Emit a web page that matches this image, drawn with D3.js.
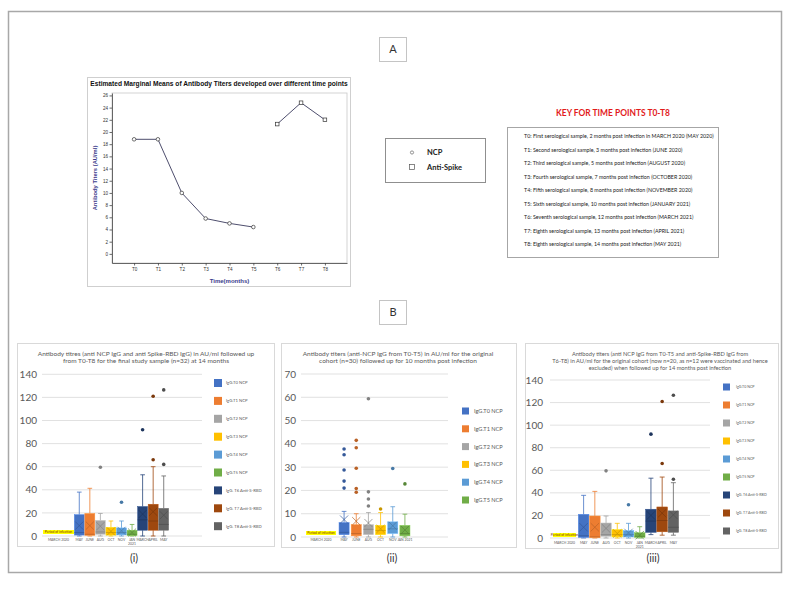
<!DOCTYPE html>
<html><head><meta charset="utf-8">
<script src="https://cdn.jsdelivr.net/npm/d3@7"></script>
<style>body{margin:0;background:#fff}svg{display:block}</style>
</head><body>
<svg id="c" width="788" height="609"></svg>
<script>
// ---------- Panel A data ----------
const timePoints = ["T0","T1","T2","T3","T4","T5","T6","T7","T8"];
const ncpPoints = ["T0","T1","T2","T3","T4","T5"];
const ncpMeans = [18.8,18.8,10.0,5.8,5.0,4.4];
const spikePoints = ["T6","T7","T8"];
const spikeMeans = [21.3,24.8,22.0];
const yTicksA = [0,2,4,6,8,10,12,14,16,18,20,22,24,26];
const keyLines = [
 "T0: First serological sample, 2 months post infection in MARCH 2020 (MAY 2020)",
 "T1: Second serological sample, 3 months post infection (JUNE 2020)",
 "T2: Third serological sample, 5 months post infection  (AUGUST 2020)",
 "T3: Fourth serological sample, 7 months post infection (OCTOBER 2020)",
 "T4: Fifth serological sample, 8 months post infection (NOVEMBER 2020)",
 "T5: Sixth serological sample, 10 months post infection (JANUARY 2021)",
 "T6: Seventh serological sample, 12 months post infection (MARCH 2021)",
 "T7: Eighth serological sample, 13 months post infection (APRIL 2021)",
 "T8: Eighth serological sample, 14 months post infection (MAY 2021)"
];
// ---------- Panel B data ----------
const seriesNames = ["IgG.T0 NCP","IgG.T1 NCP","IgG.T2 NCP","IgG.T3 NCP","IgG.T4 NCP","IgG.T5 NCP","IgG. T6 Anti-S-RBD","IgG. T7 Anti-S-RBD","IgG. T8 Anti-S-RBD"];
const seriesColors = ["#4472C4","#ED7D31","#A5A5A5","#FFC000","#5B9BD5","#70AD47","#264478","#9E480E","#636363"];
const monthLabels = ["MAY","JUNE","AUG","OCT","NOV","JAN 2021","MARCH","APRIL","MAY"];
const infectionLabel = "MARCH 2020";
// stats: [min, q1, median, q3, max, mean]
const statsI = [[0,0.8,3,18.5,38,9],[0,0.5,1.5,19.5,41.3,9],[0,1.5,3.5,13.5,19.5,8.5],[0,0.8,3,7.5,13,4],[0,1,3,7,13,4.5],[0,0.3,1.5,5,10,3],[0,5,14,25.5,53,19],[0,5,13,27.5,60,21],[0,5,10,24,52,18]];
const outliersI = [[],[],[59.5],[],[29.2],[],[92],[66,121],[62,126.5]];
const statsII = [[0,1,2,6.2,11,7.5],[0,0.5,1.5,5.3,10,6.8],[0,1,3.3,5.3,10.5,6],[0,1,2.8,5,10.5,3.5],[0,1.5,3.5,6.5,13,4.8],[0,0.5,1.5,5,9.8,3]];
const outliersII = [[21,24,28.8,35.3,37.8],[19.2,20.8,29.5,38.3,41.5],[13.3,16.3,19.4,59.4],[12],[29.4],[22.8]];
const statsIII = [[0,0.5,2,21,37.8,9.5],[0,0.3,1,19.5,41.3,9.5],[0,1.5,3,13.3,19.5,8.5],[0,1,3,7.4,13,4],[0,1,3,6.5,13,4.5],[0,0.5,1.5,4.7,10,2.5],[3,5,15,25.5,53,20],[2.5,5.5,15.5,27.5,54,22],[2.5,5,9.5,24,49,20.5]];
const outliersIII = [[],[],[59.5],[],[29.5],[],[92],[66,121],[52,126.5]];
const titleI = ["Antibody titres (anti NCP IgG and anti Spike-RBD IgG) in AU/ml followed up","from T0-T8 for the final study sample (n=32) at 14 months"];
const titleII = ["Antibody titers (anti-NCP IgG from T0-T5) in AU/ml for the original","cohort (n=30) followed up for 10 months post infection"];
const titleIII = ["Antibody titers (anti NCP IgG from T0-T5 and anti-Spike-RBD IgG from","T6-T8) in AU/ml for the original cohort (now n=20, as n=12 were vaccinated and hence","excluded) when followed up for 14 months post infection"];

const svg = d3.select("#c");
svg.append("rect").attr("width",788).attr("height",609).attr("fill","#fff");
const XL = "Lato, 'Open Sans', sans-serif";
const AR = "'Liberation Sans', Arial, sans-serif";

function fitWidth(sel, target){
  const w = sel.node().getComputedTextLength();
  const fs = parseFloat(sel.attr("font-size"));
  return fs*target/w;
}

// outer frame
svg.append("rect").attr("x",8.5).attr("y",11.5).attr("width",773).attr("height",561)
  .attr("fill","none").attr("stroke","#a8a8a8").attr("stroke-width",1.5);

function labelBox(x,y,w,h,t){
  svg.append("rect").attr("x",x+0.5).attr("y",y+0.5).attr("width",w).attr("height",h)
    .attr("fill","#fff").attr("stroke","#c4c4c4").attr("stroke-width",1);
  svg.append("text").attr("x",x+w/2+0.5).attr("y",y+h/2+4).attr("text-anchor","middle")
    .attr("font-family",XL).attr("font-size",11).attr("fill","#333").text(t);
}
labelBox(379,37,27,24,"A");
labelBox(379,300,27,24,"B");

// ---------- Panel A chart ----------
const gA = svg.append("g");
gA.append("rect").attr("x",87.5).attr("y",77.5).attr("width",263).attr("height",209)
  .attr("fill","#fff").attr("stroke","#cfcfcf");
const tA = gA.append("text").attr("x",219).attr("y",85.5).attr("text-anchor","middle")
  .attr("font-family",AR).attr("font-weight","bold").attr("font-size",6.2).attr("fill","#111")
  .text("Estimated Marginal Means of Antibody Titers developed over different time points");
tA.attr("font-size", fitWidth(tA,257));
const xA = d3.scalePoint().domain(timePoints).range([112,347]).padding(0.926);
const yA = d3.scaleLinear().domain([-1.5,26.4]).range([263,93]);
gA.append("rect").attr("x",112).attr("y",93).attr("width",235).attr("height",170)
  .attr("fill","none").attr("stroke","#c8c8c8").attr("stroke-width",0.8);
const axL = gA.append("g").attr("transform","translate(112,0)")
  .call(d3.axisLeft(yA).tickValues(yTicksA).tickSize(2.5).tickSizeOuter(0).tickPadding(1.5));
const axB = gA.append("g").attr("transform","translate(0,263)")
  .call(d3.axisBottom(xA).tickSize(2.5).tickSizeOuter(0).tickPadding(2.5));
[axL,axB].forEach(a=>{
  a.selectAll("path,line").attr("stroke","#444").attr("stroke-width",0.8);
  a.selectAll("text").attr("font-family",AR).attr("font-size",4.6).attr("fill","#333");
});
gA.append("text").attr("transform","translate(97,178) rotate(-90)").attr("text-anchor","middle")
  .attr("font-family",AR).attr("font-weight","bold").attr("font-size",5.8).attr("fill","#3b3b8c")
  .text("Antibody Titers (AU/ml)");
gA.append("text").attr("x",229.5).attr("y",283).attr("text-anchor","middle")
  .attr("font-family",AR).attr("font-weight","bold").attr("font-size",6).attr("fill","#3b3b8c")
  .text("Time(months)");
const lineA = d3.line().x(d=>xA(d[0])).y(d=>yA(d[1]));
const ncpData = ncpPoints.map((p,i)=>[p,ncpMeans[i]]);
const spData = spikePoints.map((p,i)=>[p,spikeMeans[i]]);
[ncpData,spData].forEach(dd=>{
  gA.append("path").attr("d",lineA(dd)).attr("fill","none").attr("stroke","#3a3a5c").attr("stroke-width",0.9);
});
gA.selectAll(".ncpm").data(ncpData).join("circle").attr("cx",d=>xA(d[0])).attr("cy",d=>yA(d[1]))
  .attr("r",1.8).attr("fill","#fff").attr("stroke","#333").attr("stroke-width",0.7);
gA.selectAll(".spm").data(spData).join("rect").attr("x",d=>xA(d[0])-1.8).attr("y",d=>yA(d[1])-1.8)
  .attr("width",3.6).attr("height",3.6).attr("fill","#fff").attr("stroke","#333").attr("stroke-width",0.7);

// legend NCP / Anti-Spike
svg.append("rect").attr("x",385.5).attr("y",138.5).attr("width",100).attr("height",44)
  .attr("fill","#fff").attr("stroke","#8f8f8f").attr("stroke-width",1);
svg.append("circle").attr("cx",412).attr("cy",152.5).attr("r",1.6).attr("fill","none").attr("stroke","#666").attr("stroke-width",0.7);
svg.append("rect").attr("x",409.5).attr("y",164.5).attr("width",5).attr("height",5).attr("fill","none").attr("stroke","#555").attr("stroke-width",0.7);
svg.append("text").attr("x",427).attr("y",155).attr("font-family",XL).attr("font-weight","bold").attr("font-size",7.5).attr("fill","#222").text("NCP");
svg.append("text").attr("x",427).attr("y",169.5).attr("font-family",XL).attr("font-weight","bold").attr("font-size",7.5).attr("fill","#222").text("Anti-Spike");

// Key box
const kt = svg.append("text").attr("x",613).attr("y",116).attr("text-anchor","middle")
  .attr("font-family",XL).attr("font-weight","bold").attr("font-size",9).attr("fill","#e21b1b")
  .text("KEY FOR TIME POINTS T0-T8");
kt.attr("font-size", fitWidth(kt,114));
svg.append("rect").attr("x",507.5).attr("y",127.5).attr("width",211).attr("height",130)
  .attr("fill","#fff").attr("stroke","#a6a6a6").attr("stroke-width",1);
const kl = svg.selectAll(".kl").data(keyLines).join("text").attr("x",524).attr("y",(d,i)=>138+i*13.5)
  .attr("font-family",XL).attr("font-size",5).attr("fill","#222").text(d=>d);
const kfs = fitWidth(d3.select(kl.nodes()[0]),190);
kl.attr("font-size",kfs);

// ---------- Panel B ----------
function boxPanel(c){
  const g = svg.append("g");
  g.append("rect").attr("x",c.frame[0]+0.5).attr("y",c.frame[1]+0.5).attr("width",c.frame[2]).attr("height",c.frame[3])
    .attr("fill","#fff").attr("stroke","#d9d9d9").attr("stroke-width",1);
  const tl = g.selectAll(".tt").data(c.title).join("text").attr("x",c.titleX).attr("y",(d,i)=>c.titleY+i*c.titleGap)
    .attr("text-anchor","middle").attr("font-family",XL).attr("font-size",6).attr("fill","#595959").text(d=>d);
  const tfs = fitWidth(d3.select(tl.nodes()[c.titleLine]),c.titleW);
  tl.attr("font-size",tfs);
  const y = d3.scaleLinear().domain([0,c.ymax]).range(c.yRange);
  const ticks = d3.range(0,c.ymax+0.001,c.ystep);
  g.selectAll(".gl").data(ticks).join("line").attr("x1",c.grid[0]).attr("x2",c.grid[1])
    .attr("y1",d=>y(d)).attr("y2",d=>y(d)).attr("stroke","#d9d9d9").attr("stroke-width",0.8);
  g.selectAll(".yl").data(ticks).join("text").attr("x",c.labelX).attr("y",d=>y(d)).attr("dy","0.36em")
    .attr("text-anchor","end").attr("font-family",XL).attr("font-size",10).attr("fill","#595959").text(d=>d);
  const n = c.stats.length;
  const x = d3.scaleBand().domain(monthLabels.slice(0,n).map((m,i)=>i)).range(c.band).paddingInner(c.pad).paddingOuter(c.pad/2);
  const bw = x.bandwidth();
  // period of infection
  g.append("rect").attr("x",c.period[0]).attr("y",c.period[1]).attr("width",c.period[2]).attr("height",c.period[3]).attr("fill","#ffff00");
  g.append("text").attr("x",c.period[0]+c.period[2]/2).attr("y",c.period[1]+c.period[3]-0.8).attr("text-anchor","middle")
    .attr("font-family",XL).attr("font-size",c.period[3]*0.85).attr("fill","#7a2b00").text("Period of infection");
  g.append("text").attr("x",c.period[0]+c.period[2]/2).attr("y",c.xLabY).attr("text-anchor","middle")
    .attr("font-family",XL).attr("font-size",c.xFs).attr("fill","#595959").text(infectionLabel);
  monthLabels.slice(0,n).forEach((m,i)=>{
    const parts = c.split ? m.split(" ") : [m];
    parts.forEach((p,j)=>{
      g.append("text").attr("x",x(i)+bw/2).attr("y",c.xLabY+j*c.xFs*1.1).attr("text-anchor","middle")
        .attr("font-family",XL).attr("font-size",c.xFs).attr("fill","#595959").text(p);
    });
  });
  c.stats.forEach((s,i)=>{
    const col = seriesColors[i], dk = d3.color(col).darker(0.7).formatHex();
    const cx = x(i)+bw/2, cap = bw*0.22;
    const [mn,q1,md,q3,mx,mean] = s;
    g.append("line").attr("x1",cx).attr("x2",cx).attr("y1",y(q3)).attr("y2",y(mx)).attr("stroke",col).attr("stroke-width",0.8);
    g.append("line").attr("x1",cx).attr("x2",cx).attr("y1",y(q1)).attr("y2",y(mn)).attr("stroke",col).attr("stroke-width",0.8);
    [mx,mn].forEach(v=>g.append("line").attr("x1",cx-cap).attr("x2",cx+cap).attr("y1",y(v)).attr("y2",y(v)).attr("stroke",col).attr("stroke-width",0.8));
    g.append("rect").attr("x",x(i)+0.3).attr("y",y(q3)).attr("width",bw-0.6).attr("height",Math.max(0.5,y(q1)-y(q3)))
      .attr("fill",col).attr("stroke",d3.color(col).brighter(0.5).formatHex()).attr("stroke-width",0.5);
    g.append("line").attr("x1",x(i)+0.3).attr("x2",x(i)+bw-0.3).attr("y1",y(md)).attr("y2",y(md)).attr("stroke",dk).attr("stroke-width",0.7);
    const xs = Math.min(bw*0.38,4.2);
    g.append("path").attr("d",`M${cx-xs},${y(mean)-xs}L${cx+xs},${y(mean)+xs}M${cx-xs},${y(mean)+xs}L${cx+xs},${y(mean)-xs}`)
      .attr("stroke",dk).attr("stroke-width",0.7).attr("fill","none");
    c.outliers[i].forEach(v=>g.append("circle").attr("cx",cx).attr("cy",y(v)).attr("r",c.dotR).attr("fill",dk));
  });
  // legend
  seriesNames.slice(0,n).forEach((nm,i)=>{
    const yy = c.leg[1]+i*c.leg[3];
    g.append("rect").attr("x",c.leg[0]).attr("y",yy-c.leg[2]/2).attr("width",c.leg[2]).attr("height",c.leg[2]).attr("fill",seriesColors[i]);
    g.append("text").attr("x",c.leg[4]).attr("y",yy).attr("dy","0.35em").attr("font-family",XL).attr("font-size",c.leg[5])
      .attr("fill","#595959").text(nm);
  });
  g.append("text").attr("x",c.sub[0]).attr("y",c.sub[1]).attr("text-anchor","middle").attr("font-family",XL)
    .attr("font-size",10.5).attr("fill","#333").text(c.sub[2]);
}

boxPanel({frame:[17,343,257,203],title:titleI,titleX:146,titleY:356,titleGap:7.3,titleLine:0,titleW:217,
  ymax:140,ystep:20,yRange:[536,374.3],grid:[42,202],labelX:37,band:[74,169],pad:0,split:true,
  period:[43,530,31,4],xLabY:541,xFs:3.4,stats:statsI,outliers:outliersI,dotR:1.8,
  leg:[214,383,8,17.9,226,4.2],sub:[134,562,"(i)"]});
boxPanel({frame:[281,343,235,204],title:titleII,titleX:398,titleY:355.5,titleGap:7.5,titleLine:0,titleW:191,
  ymax:70,ystep:10,yRange:[537,374],grid:[301,448],labelX:296,band:[338,411],pad:0.12,split:false,
  period:[306,531,30,4],xLabY:541,xFs:3.4,stats:statsII,outliers:outliersII,dotR:1.8,
  leg:[462,411,7,17.8,474,5.6],sub:[392,562,"(ii)"]});
boxPanel({frame:[525,343,253,205],title:titleIII,titleX:660,titleY:356,titleGap:6.8,titleLine:1,titleW:216,
  ymax:140,ystep:20,yRange:[538,380],grid:[550,710],labelX:543,band:[578,679],pad:0,split:true,
  period:[553,533,23,4],xLabY:544,xFs:3.4,stats:statsIII,outliers:outliersIII,dotR:1.8,
  leg:[723,387,7,18,736,3.6],sub:[653,562,"(iii)"]});
</script>
</body></html>
